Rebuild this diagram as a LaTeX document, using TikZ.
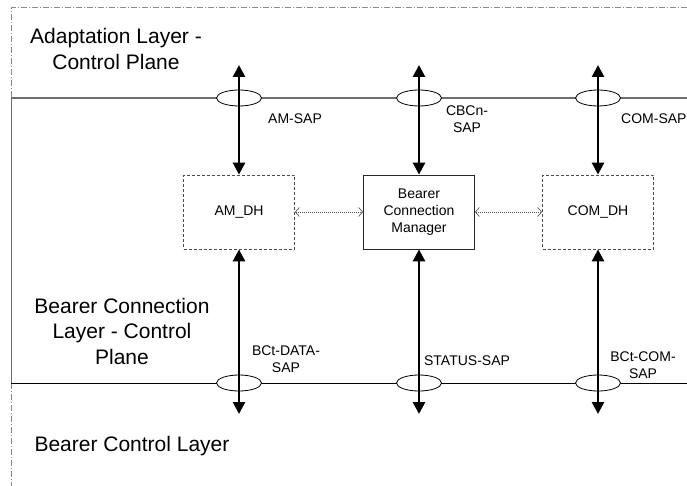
\documentclass[tikz,border=0pt]{standalone}
\usepackage{fontspec}
\setmainfont{Liberation Sans}
\usetikzlibrary{arrows.meta,shapes.geometric,positioning}
\definecolor{PlaneGray}{HTML}{6E6E6E}
\definecolor{FrameGray}{HTML}{8C8C8C}
\tikzset{
  every node/.style = {font=\fontsize{14}{17}\selectfont, text=black},
  layer label/.style = {font=\fontsize{21}{25.5}\selectfont, align=center, inner sep=0pt},
  sap label/.style = {align=center, inner sep=0pt},
  handler/.style = {
    draw=black!70,
    dash pattern=on 3pt off 2pt,
    line width=0.8pt,
    minimum width=111pt,
    minimum height=74pt,
    align=center,
    inner sep=2pt
  },
  manager/.style = {handler, solid, draw=black!85},
  sap/.style = {
    ellipse,
    draw=black,
    fill=white,
    line width=0.8pt,
    minimum width=45pt,
    minimum height=16pt,
    inner sep=0pt
  },
  prim/.style = {{Triangle[length=12pt,width=12pt]}-{Triangle[length=12pt,width=12pt]}, line width=2.6pt},
  peer/.style = {{Straight Barb[length=4pt,width=9pt]}-{Straight Barb[length=4pt,width=9pt]}, draw=black!65, line width=0.7pt, dash pattern=on 1pt off 1pt},
  plane line/.style = {draw=PlaneGray, line width=1.5pt},
  frame/.style = {draw=FrameGray, line width=1pt, dash pattern=on 6pt off 2pt on 1pt off 2pt},
}

\begin{document}
\begin{tikzpicture}[x=1pt,y=-1pt]
  \useasboundingbox (0,0) rectangle (687,486);

  % frame and layer boundaries
  \draw[frame] (687,8) -- (11,8) -- (11,98);
  \draw[draw=PlaneGray, line width=1pt] (11,98) -- (11,383);
  \draw[frame] (11,383) -- (11,486);
  \draw[plane line] (11,98) -- (687,98);
  \draw[draw=black, line width=1pt] (11,383) -- (687,383);

  \node[layer label] (alcp) at (116,49) {Adaptation Layer -\\Control Plane};
  \node[layer label] (bclcp) at (122,331) {Bearer Connection\\Layer - Control\\Plane};
  \node[layer label, anchor=base] (bcl) at (132,451) {Bearer Control Layer};

  \node[handler] (amdh) at (239,212) {AM\_DH};
  \node[manager] (bcm) at (419,212) {Bearer\\Connection\\Manager};
  \node[handler] (comdh) at (598,212) {COM\_DH};

  \node[sap] (amsap) at (239,98) {};
  \node[sap] (cbcnsap) at (419,98) {};
  \node[sap] (comsap) at (598,98) {};
  \node[sap] (bctdatasap) at (239,383) {};
  \node[sap] (statussap) at (419,383) {};
  \node[sap] (bctcomsap) at (598,383) {};

  \coordinate (amtop) at (239,65);
  \coordinate (bcmtop) at (419,65);
  \coordinate (comtop) at (598,65);
  \coordinate (ambot) at (239,414);
  \coordinate (bcmbot) at (419,414);
  \coordinate (combot) at (598,414);

  \draw[prim] (amtop) -- (amdh.north);
  \draw[prim] (bcmtop) -- (bcm.north);
  \draw[prim] (comtop) -- (comdh.north);
  \draw[prim] (amdh.south) -- (ambot);
  \draw[prim] (bcm.south) -- (bcmbot);
  \draw[prim] (comdh.south) -- (combot);

  \draw[peer] (amdh) -- (bcm);
  \draw[peer] (bcm) -- (comdh);

  \node[sap label] (amsaplbl) at (295,119) {AM-SAP};
  \node[sap label] (cbcnsaplbl) at (467,119) {CBCn-\\SAP};
  \node[sap label, anchor=west] (comsaplbl) at (621,119) {COM-SAP};
  \node[sap label] (bctdatalbl) at (286,359) {BCt-DATA-\\SAP};
  \node[sap label] (statuslbl) at (467,361) {STATUS-SAP};
  \node[sap label] (bctcomlbl) at (643,365) {BCt-COM-\\SAP};
\end{tikzpicture}
\end{document}
